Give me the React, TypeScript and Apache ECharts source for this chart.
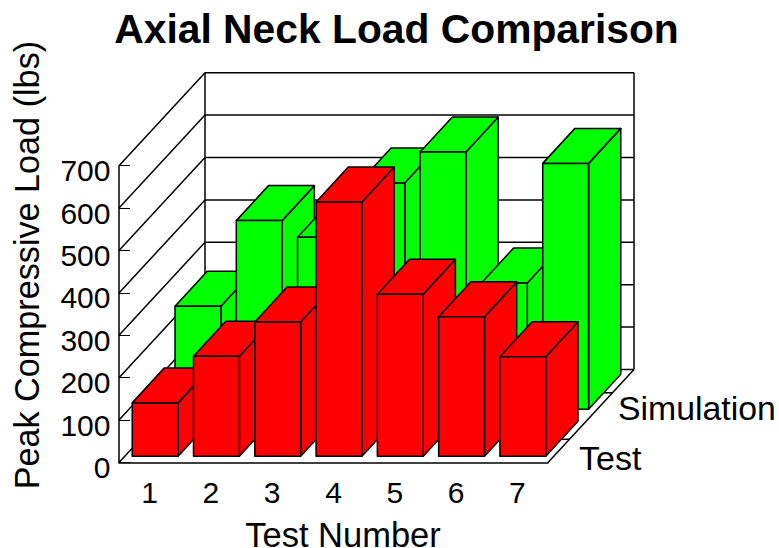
import React, { useEffect, useRef } from "react";
import * as echarts from "echarts";

const categories = ["1", "2", "3", "4", "5", "6", "7"];
const testValues = [126, 236, 317, 600, 382, 329, 235];
const simulationValues = [243, 445, 406, 534, 607, 298, 580];
const yTicks = [0, 100, 200, 300, 400, 500, 600, 700];

const FONT = "Liberation Sans, Arial, sans-serif";
const DEPTH_X = 86;
const DEPTH_Y = -93;
const BAR_DX = 32.2;
const BAR_DY = -35;
const BAR_RATIO = 0.748;
const LINE = 1.5;

function barRenderer(color: string, shiftX: number, shiftY: number) {
  return (_params: any, api: any) => {
    const i = api.value(0);
    const v = api.value(1);
    const base = api.coord([i, 0]);
    const top = api.coord([i, v]);
    const w = api.size([1, 0])[0] * BAR_RATIO;
    const x0 = base[0] + shiftX - w / 2;
    const x1 = x0 + w;
    const yb = base[1] + shiftY;
    const yt = top[1] + shiftY;
    const style = { fill: color, stroke: "#000", lineWidth: LINE, lineJoin: "round" };
    const poly = (points: number[][]) => ({ type: "polygon", shape: { points }, style });
    return {
      type: "group",
      children: [
        poly([[x1, yb], [x1 + BAR_DX, yb + BAR_DY], [x1 + BAR_DX, yt + BAR_DY], [x1, yt]]),
        poly([[x0, yt], [x0 + BAR_DX, yt + BAR_DY], [x1 + BAR_DX, yt + BAR_DY], [x1, yt]]),
        poly([[x0, yb], [x1, yb], [x1, yt], [x0, yt]]),
      ],
    };
  };
}

function frameRenderer(params: any, api: any) {
  const cs = params.coordSys;
  const y = api.coord([0, api.value(1)])[1];
  const left = cs.x;
  const right = cs.x + cs.width;
  const line = (x1: number, y1: number, x2: number, y2: number) => ({
    type: "line",
    shape: { x1, y1, x2, y2 },
    style: { stroke: "#000", lineWidth: LINE, fill: "none" },
  });
  const children: any[] = [
    line(left, y, left + DEPTH_X, y + DEPTH_Y),
    line(left + DEPTH_X, y + DEPTH_Y, right + DEPTH_X, y + DEPTH_Y),
  ];
  if (params.dataIndex === 0) {
    const top = cs.y;
    const bottom = cs.y + cs.height;
    children.push(
      line(left + DEPTH_X, top + DEPTH_Y, left + DEPTH_X, bottom + DEPTH_Y),
      line(right + DEPTH_X, top + DEPTH_Y, right + DEPTH_X, bottom + DEPTH_Y),
      line(right, bottom, right + DEPTH_X, bottom + DEPTH_Y),
      line(right + 0.25 * DEPTH_X, bottom + 0.25 * DEPTH_Y, right + 0.25 * DEPTH_X - 10, bottom + 0.25 * DEPTH_Y),
      line(right + 0.75 * DEPTH_X, bottom + 0.75 * DEPTH_Y, right + 0.75 * DEPTH_X - 10, bottom + 0.75 * DEPTH_Y)
    );
  }
  return { type: "group", children };
}

export default function App() {
  const ref = useRef<HTMLDivElement>(null);
  useEffect(() => {
    const chart = echarts.init(ref.current!, undefined, { renderer: "svg" });
    chart.setOption({
      animation: false,
      backgroundColor: "#fff",
      title: {
        text: "Axial Neck Load Comparison",
        left: 391.5,
        top: 3,
        textAlign: "center",
        textStyle: { fontFamily: FONT, fontSize: 40.8, fontWeight: "bold", color: "#000" },
      },
      grid: { left: 119, top: 165.7, width: 429, height: 296.8, outerBoundsMode: "none" },
      xAxis: {
        type: "category",
        data: categories,
        z: 6,
        name: "Test Number",
        nameLocation: "middle",
        nameGap: 59,
        nameTextStyle: { fontFamily: FONT, fontSize: 34.5, lineHeight: 26, color: "#000", padding: [0, 0, 0, 19] },
        axisLine: { lineStyle: { color: "#000", width: LINE } },
        axisTick: { inside: true, length: 11, alignWithLabel: true, lineStyle: { color: "#000", width: 1 } },
        axisLabel: { fontFamily: FONT, fontSize: 30, color: "#000", margin: 15 },
        splitLine: { show: false },
      },
      yAxis: {
        type: "value",
        min: 0,
        max: 700,
        interval: 100,
        z: 6,
        name: "Peak Compressive Load (lbs)",
        nameLocation: "middle",
        nameGap: 75,
        nameTextStyle: { fontFamily: FONT, fontSize: 34.2, color: "#000", padding: [0, 0, 0, 98] },
        axisLine: { show: true, lineStyle: { color: "#000", width: LINE } },
        axisTick: { show: true, inside: true, length: 11, lineStyle: { color: "#000", width: 1 } },
        axisLabel: { fontFamily: FONT, fontSize: 30, color: "#000", margin: 8.5, verticalAlign: "top", lineHeight: 10 },
        splitLine: { show: false },
      },
      series: [
        {
          type: "custom",
          name: "Frame",
          renderItem: frameRenderer,
          data: yTicks.map((t) => [0, t]),
          z: 1,
          silent: true,
        },
        {
          type: "custom",
          name: "Simulation",
          renderItem: barRenderer("#00ff00", 48.3, -53.2),
          data: simulationValues.map((v, i) => [i, v]),
          z: 2,
        },
        {
          type: "custom",
          name: "Test",
          renderItem: barRenderer("#ff0000", 5.5, -6.2),
          data: testValues.map((v, i) => [i, v]),
          z: 3,
        },
      ],
      graphic: [
        {
          type: "text",
          x: 579,
          y: 458,
          style: { text: "Test", font: `34px ${FONT}`, fill: "#000", textVerticalAlign: "middle" },
        },
        {
          type: "text",
          x: 618,
          y: 408,
          style: { text: "Simulation", font: `33.8px ${FONT}`, fill: "#000", textVerticalAlign: "middle" },
        },
      ],
    });
    return () => chart.dispose();
  }, []);
  return <div ref={ref} style={{ position: "absolute", left: 0, top: 0, width: 779, height: 548 }} />;
}
